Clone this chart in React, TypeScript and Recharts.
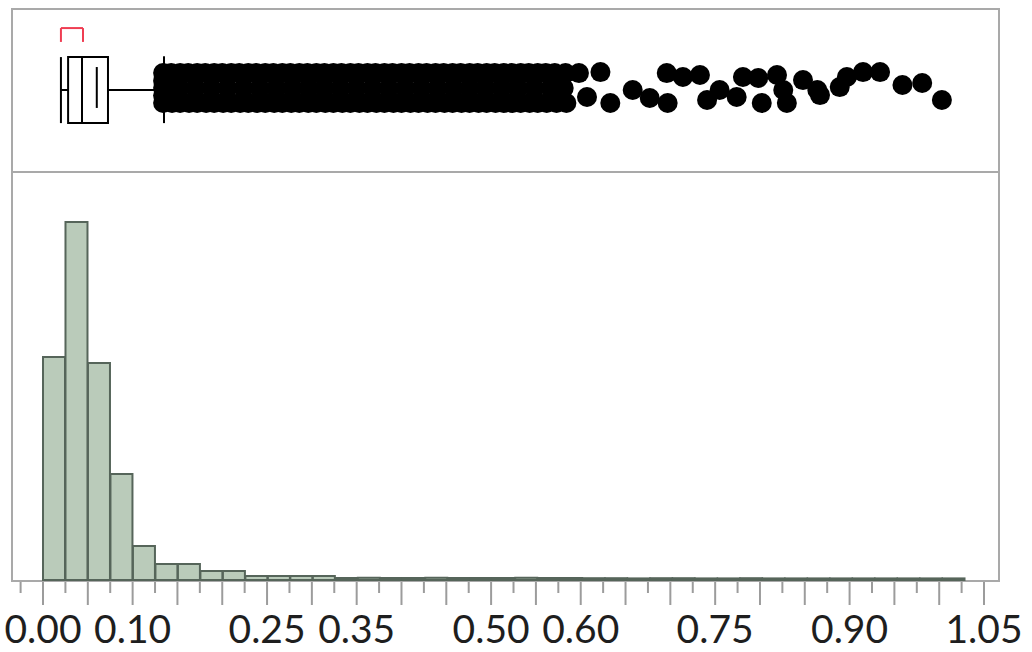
import {
  Bar,
  BarChart,
  ReferenceArea,
  ReferenceLine,
  Scatter,
  ScatterChart,
  XAxis,
  YAxis,
} from "recharts";

// histogram bins (start of each 0.025 bin) and their counts
const binStarts = [
  0, 0.025, 0.05, 0.075, 0.1, 0.125, 0.15, 0.175, 0.2, 0.225, 0.25, 0.275,
  0.3, 0.325, 0.35, 0.375, 0.4, 0.425, 0.45, 0.475, 0.5, 0.525, 0.55, 0.575,
  0.6, 0.625, 0.65, 0.675, 0.7, 0.725, 0.75, 0.775, 0.8, 0.825, 0.85, 0.875,
  0.9, 0.925, 0.95, 0.975, 1.0,
];
const binCounts = [
  1115, 1790, 1085, 530, 170, 80, 80, 45, 45, 20, 20, 20, 20, 10, 11, 10, 10,
  11, 10, 10, 10, 11, 10, 10, 9, 9, 8, 9, 9, 8, 8, 9, 8, 8, 8, 8, 8, 8, 8, 8,
  8,
];

// axis ticks
const majorTicks = [
  0, 0.05, 0.1, 0.15, 0.2, 0.25, 0.3, 0.35, 0.4, 0.45, 0.5, 0.55, 0.6, 0.65,
  0.7, 0.75, 0.8, 0.85, 0.9, 0.95, 1.0, 1.05,
];
const minorTicks = [
  -0.025, 0.025, 0.075, 0.125, 0.175, 0.225, 0.275, 0.325, 0.375, 0.425,
  0.475, 0.525, 0.575, 0.625, 0.675, 0.725, 0.775, 0.825, 0.875, 0.925,
  0.975, 1.025,
];
const labelTicks = [0, 0.1, 0.25, 0.35, 0.5, 0.6, 0.75, 0.9, 1.05];

// outlier box plot summary
const whiskerLow = 0.02;
const quartile1 = 0.028;
const median = 0.0435;
const quartile3 = 0.0725;
const meanValue = 0.06;
const whiskerHigh = 0.135;
const shortestHalf = [0.02, 0.0446];

// points beyond the upper whisker: dense band rows, then the sparse tail
const bandTop = [
  0.134, 0.143, 0.153, 0.162, 0.172, 0.181, 0.191, 0.2, 0.21, 0.219, 0.229,
  0.238, 0.248, 0.257, 0.267, 0.276, 0.286, 0.295, 0.305, 0.314, 0.324, 0.333,
  0.343, 0.352, 0.362, 0.371, 0.381, 0.39, 0.4, 0.409, 0.419, 0.428, 0.438,
  0.447, 0.457, 0.466, 0.476, 0.485, 0.495, 0.504, 0.514, 0.523, 0.533, 0.542,
  0.552, 0.561, 0.571, 0.583, 0.598,
];
const bandMid = [
  0.134, 0.152, 0.17, 0.188, 0.206, 0.224, 0.242, 0.26, 0.278, 0.296, 0.314,
  0.332, 0.35, 0.368, 0.386, 0.404, 0.422, 0.44, 0.458, 0.476, 0.494, 0.512,
  0.53, 0.548, 0.566, 0.581,
];
const bandBottom = [
  0.134, 0.144, 0.153, 0.163, 0.172, 0.182, 0.191, 0.201, 0.21, 0.22, 0.229,
  0.239, 0.248, 0.258, 0.267, 0.277, 0.286, 0.296, 0.305, 0.315, 0.324, 0.334,
  0.343, 0.353, 0.362, 0.372, 0.381, 0.391, 0.4, 0.41, 0.419, 0.429, 0.438,
  0.448, 0.457, 0.467, 0.476, 0.486, 0.495, 0.505, 0.514, 0.524, 0.533, 0.543,
  0.552, 0.562, 0.573, 0.584,
];
const tailValues = [
  0.134, 0.134, 0.607, 0.622, 0.633, 0.658, 0.677, 0.696, 0.697, 0.714, 0.733,
  0.741, 0.755, 0.774, 0.781, 0.798, 0.802, 0.819, 0.826, 0.83, 0.848, 0.864,
  0.867, 0.889, 0.897, 0.915, 0.934, 0.959, 0.981, 1.003,
];
const tailJitter = [
  0.56, 0.47, 0.46, 0.613, 0.423, 0.503, 0.454, 0.607, 0.423, 0.583, 0.595,
  0.442, 0.503, 0.46, 0.583, 0.577, 0.423, 0.595, 0.503, 0.423, 0.564, 0.503,
  0.472, 0.521, 0.583, 0.613, 0.613, 0.534, 0.546, 0.442,
];

const X_DOMAIN = [-0.0346, 1.0656];
const GRAY = "#a9a9a9";
const RED = "#ef3d52";

const histData = binStarts.map((b, i) => ({ bin: b, count: binCounts[i] }));
const pointData = [
  ...bandTop.map((v) => ({ v, j: 0.607 })),
  ...bandMid.map((v) => ({ v, j: 0.515 })),
  ...bandBottom.map((v) => ({ v, j: 0.423 })),
  ...tailValues.map((v, i) => ({ v, j: tailJitter[i] })),
];
const allTicks = [...minorTicks, ...majorTicks].sort((a, b) => a - b);

const near = (list: number[], v: number) =>
  list.some((t) => Math.abs(t - v) < 1e-6);

function AxisTick(props: any) {
  const { x, y, payload } = props;
  const v = payload.value;
  const major = near(majorTicks, v);
  return (
    <g>
      <line
        x1={x}
        x2={x}
        y1={y + 2}
        y2={y + (major ? 25 : 13)}
        stroke="#9c9c9c"
        strokeWidth={2}
      />
      {near(labelTicks, v) && (
        <text
          x={x}
          y={y + 63}
          textAnchor="middle"
          fontSize={39}
          fontFamily="Lato, 'Noto Sans', sans-serif"
          fill="#1e1e1e"
        >
          {v.toFixed(2)}
        </text>
      )}
    </g>
  );
}

const dot = (p: any) => <circle cx={p.cx} cy={p.cy} r={10} fill="#000" />;

function seg(x1: number, y1: number, x2: number, y2: number, color = "#000") {
  return (
    <ReferenceLine
      segment={[
        { x: x1, y: y1 },
        { x: x2, y: y2 },
      ]}
      stroke={color}
      strokeWidth={2}
    />
  );
}

export default function App() {
  return (
    <div
      style={{
        position: "absolute",
        left: 0,
        top: 0,
        width: 1032,
        height: 652,
        background: "#fff",
      }}
    >
      <div
        style={{
          position: "absolute",
          left: 11,
          top: 8,
          width: 989,
          height: 574,
          border: `2px solid ${GRAY}`,
          boxSizing: "border-box",
        }}
      />
      <div
        style={{
          position: "absolute",
          left: 11,
          top: 171,
          width: 989,
          height: 2,
          background: GRAY,
        }}
      />

      {/* histogram bars */}
      <div style={{ position: "absolute", left: 0, top: 0 }}>
        <BarChart
          width={1032}
          height={652}
          data={histData}
          margin={{ top: 172, left: 12, right: 34, bottom: 72 }}
          barCategoryGap={0}
          barGap={0}
        >
          <XAxis
            dataKey="bin"
            type="category"
            padding={{ left: 31, right: 33 }}
            hide
          />
          <YAxis domain={[0, 2040]} hide />
          <Bar
            dataKey="count"
            fill="#bacbba"
            stroke="#56655a"
            strokeWidth={2}
            isAnimationActive={false}
          />
        </BarChart>
      </div>

      {/* outlier box plot, points and the shared value axis */}
      <div style={{ position: "absolute", left: 0, top: 0 }}>
        <ScatterChart
          width={1032}
          height={652}
          margin={{ top: 9, left: 12, right: 34, bottom: 0 }}
        >
          <XAxis
            type="number"
            dataKey="v"
            domain={X_DOMAIN}
            allowDataOverflow
            ticks={allTicks}
            interval={0}
            height={72}
            axisLine={false}
            tickLine={false}
            tickSize={0}
            tickMargin={0}
            tick={AxisTick}
          />
          <YAxis
            type="number"
            dataKey="j"
            domain={[-2.503, 1]}
            allowDataOverflow
            hide
          />
          {seg(whiskerLow, 0.503, quartile1, 0.503)}
          {seg(whiskerLow, 0.3, whiskerLow, 0.705)}
          {seg(quartile3, 0.503, whiskerHigh, 0.503)}
          {seg(whiskerHigh, 0.3, whiskerHigh, 0.71)}
          <ReferenceArea
            x1={quartile1}
            x2={quartile3}
            y1={0.3}
            y2={0.705}
            fill="#fff"
            fillOpacity={1}
            stroke="#000"
            strokeWidth={2}
          />
          {seg(median, 0.3, median, 0.705)}
          {seg(meanValue, 0.393, meanValue, 0.644)}
          {seg(shortestHalf[0], 0.883, shortestHalf[1], 0.883, RED)}
          {seg(shortestHalf[0], 0.883, shortestHalf[0], 0.798, RED)}
          {seg(shortestHalf[1], 0.883, shortestHalf[1], 0.798, RED)}
          <Scatter
            data={pointData}
            fill="#000"
            shape={dot}
            isAnimationActive={false}
          />
        </ScatterChart>
      </div>
    </div>
  );
}
